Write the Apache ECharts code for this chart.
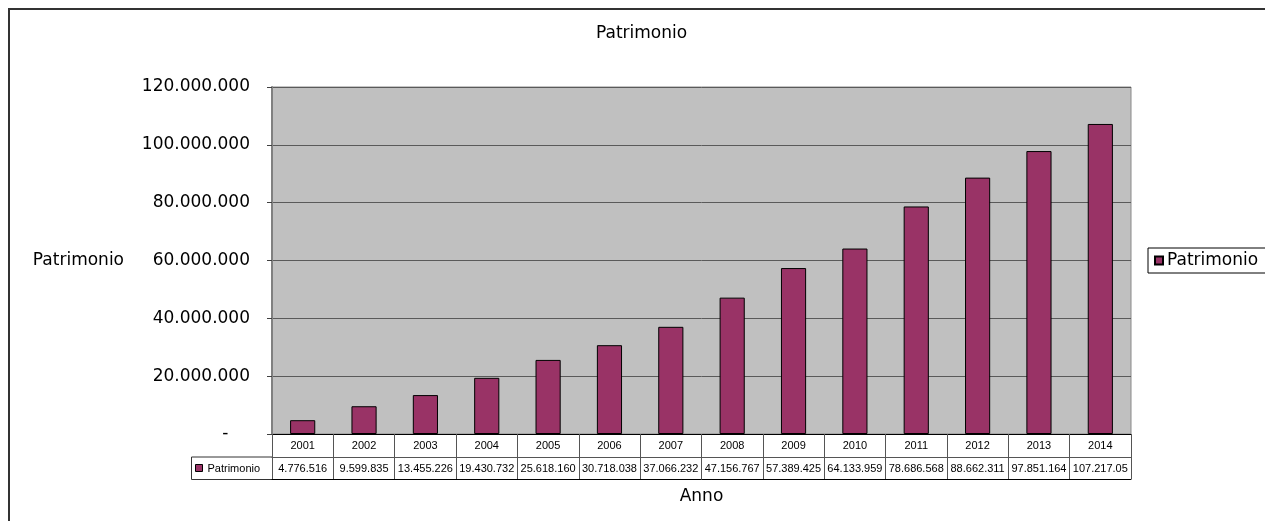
<!DOCTYPE html>
<html>
<head>
<meta charset="utf-8">
<style>
  html, body { margin: 0; padding: 0; background: #ffffff; }
  #chart { width: 1265px; height: 521px; }
</style>
<script src="https://cdn.jsdelivr.net/npm/echarts@6/dist/echarts.min.js"></script>
</head>
<body>
<div id="chart"></div>
<script>
// Anni e patrimonio (valori in euro)
const anni = ['2001', '2002', '2003', '2004', '2005', '2006', '2007', '2008', '2009', '2010', '2011', '2012', '2013', '2014'];
const patrimonio = [4776516, 9599835, 13455226, 19430732, 25618160, 30718038, 37066232, 47156767, 57389425, 64133959, 78686568, 88662311, 97851164, 107217055];
const yMin = 0;
const yMax = 120000000;
const yStep = 20000000;

const BAR = '#993366';
const FONT = 'DejaVu Sans';
const TABLE_FONT = 'Liberation Sans';

// Italian thousands separator
function fmtIt(n) {
  return String(n).replace(/\B(?=(\d{3})+(?!\d))/g, '.');
}

const chart = echarts.init(document.getElementById('chart'), null, { renderer: 'canvas' });

const gridLeft = 272, gridRight = 134, gridTop = 87, gridBottom = 87;

chart.setOption({
  animation: false,
  backgroundColor: '#ffffff',
  title: {
    text: 'Patrimonio',
    left: 596,
    top: 25,
    padding: 0,
    textStyle: { fontFamily: FONT, fontSize: 17, fontWeight: 'normal', color: '#000' }
  },
  legend: {
    data: ['Patrimonio'],
    left: 1148,
    top: 248,
    orient: 'vertical',
    padding: [4, 14, 4, 6],
    borderColor: '#000',
    borderWidth: 1,
    borderRadius: 0,
    backgroundColor: '#fff',
    icon: 'rect',
    itemWidth: 8,
    itemHeight: 8,
    textStyle: { fontFamily: FONT, fontSize: 17, color: '#000', padding: [0, 0, 0, -1] }
  },
  grid: {
    left: gridLeft,
    right: gridRight,
    top: gridTop,
    bottom: gridBottom,
    show: true,
    backgroundColor: '#C0C0C0',
    borderColor: '#8a8a8a',
    borderWidth: 1
  },
  xAxis: [
    {
      // years row of the data table
      type: 'category',
      data: anni,
      position: 'bottom',
      name: 'Anno',
      nameLocation: 'middle',
      nameGap: 54,
      nameTextStyle: { fontFamily: FONT, fontSize: 17, color: '#000' },
      axisLine: { show: true, lineStyle: { color: '#000', width: 1 } },
      axisTick: { show: true, inside: false, length: 45, interval: 0, alignWithLabel: false, lineStyle: { color: '#555' } },
      axisLabel: { interval: 0, fontFamily: TABLE_FONT, fontSize: 11, color: '#000', margin: 6 }
    },
    {
      // values row of the data table
      type: 'category',
      data: anni,
      position: 'bottom',
      offset: 23,
      axisLine: { show: true, lineStyle: { color: '#555', width: 1 } },
      axisTick: { show: false },
      axisLabel: {
        interval: 0,
        hideOverlap: false,
        fontFamily: TABLE_FONT, fontSize: 11, color: '#000', margin: 6,
        width: 61, overflow: 'truncate', ellipsis: '',
        formatter: function (v, i) { return fmtIt(patrimonio[i]); }
      }
    },
    {
      // bottom border of the data table
      type: 'category',
      data: anni,
      position: 'bottom',
      offset: 45,
      axisLine: { show: true, lineStyle: { color: '#000', width: 1 } },
      axisTick: { show: false },
      axisLabel: { show: false }
    }
  ],
  yAxis: {
    type: 'value',
    min: yMin,
    max: yMax,
    interval: yStep,
    name: 'Patrimonio',
    nameLocation: 'middle',
    nameRotate: 0,
    nameGap: 148,
    nameTextStyle: { fontFamily: FONT, fontSize: 17, color: '#000' },
    axisLine: { show: true, lineStyle: { color: '#808080', width: 2 } },
    axisTick: { show: true, inside: false, length: 5, lineStyle: { color: '#404040' } },
    splitLine: { show: true, lineStyle: { color: '#5a5a5a', width: 1 } },
    axisLabel: {
      fontFamily: FONT, fontSize: 17, color: '#000', margin: 22,
      formatter: function (v) { return v === 0 ? '-    ' : fmtIt(v); }
    }
  },
  series: [
    {
      name: 'Patrimonio',
      type: 'bar',
      data: patrimonio,
      barWidth: '41%',
      itemStyle: { color: BAR, borderColor: '#000', borderWidth: 1 }
    }
  ],
  graphic: [
    {
      // chart frame
      type: 'rect',
      shape: { x: 9, y: 9, width: 1400, height: 700 },
      style: { fill: 'none', stroke: '#333', lineWidth: 2 },
      silent: true,
      z: 0
    },
    {
      // legend key cell of the data table
      type: 'group',
      left: 191,
      top: 456.5,
      children: [
        {
          type: 'rect',
          shape: { x: 0, y: 0, width: 81, height: 22.5 },
          style: { fill: '#fff', stroke: '#333', lineWidth: 1 }
        },
        {
          type: 'rect',
          shape: { x: 4, y: 7.5, width: 7, height: 7 },
          style: { fill: BAR, stroke: '#000', lineWidth: 1 }
        },
        {
          type: 'text',
          x: 16,
          y: 12,
          style: {
            text: 'Patrimonio',
            font: '11px "Liberation Sans"',
            fill: '#000',
            textVerticalAlign: 'middle',
            verticalAlign: 'middle'
          }
        }
      ]
    }
  ]
});
</script>
</body>
</html>
